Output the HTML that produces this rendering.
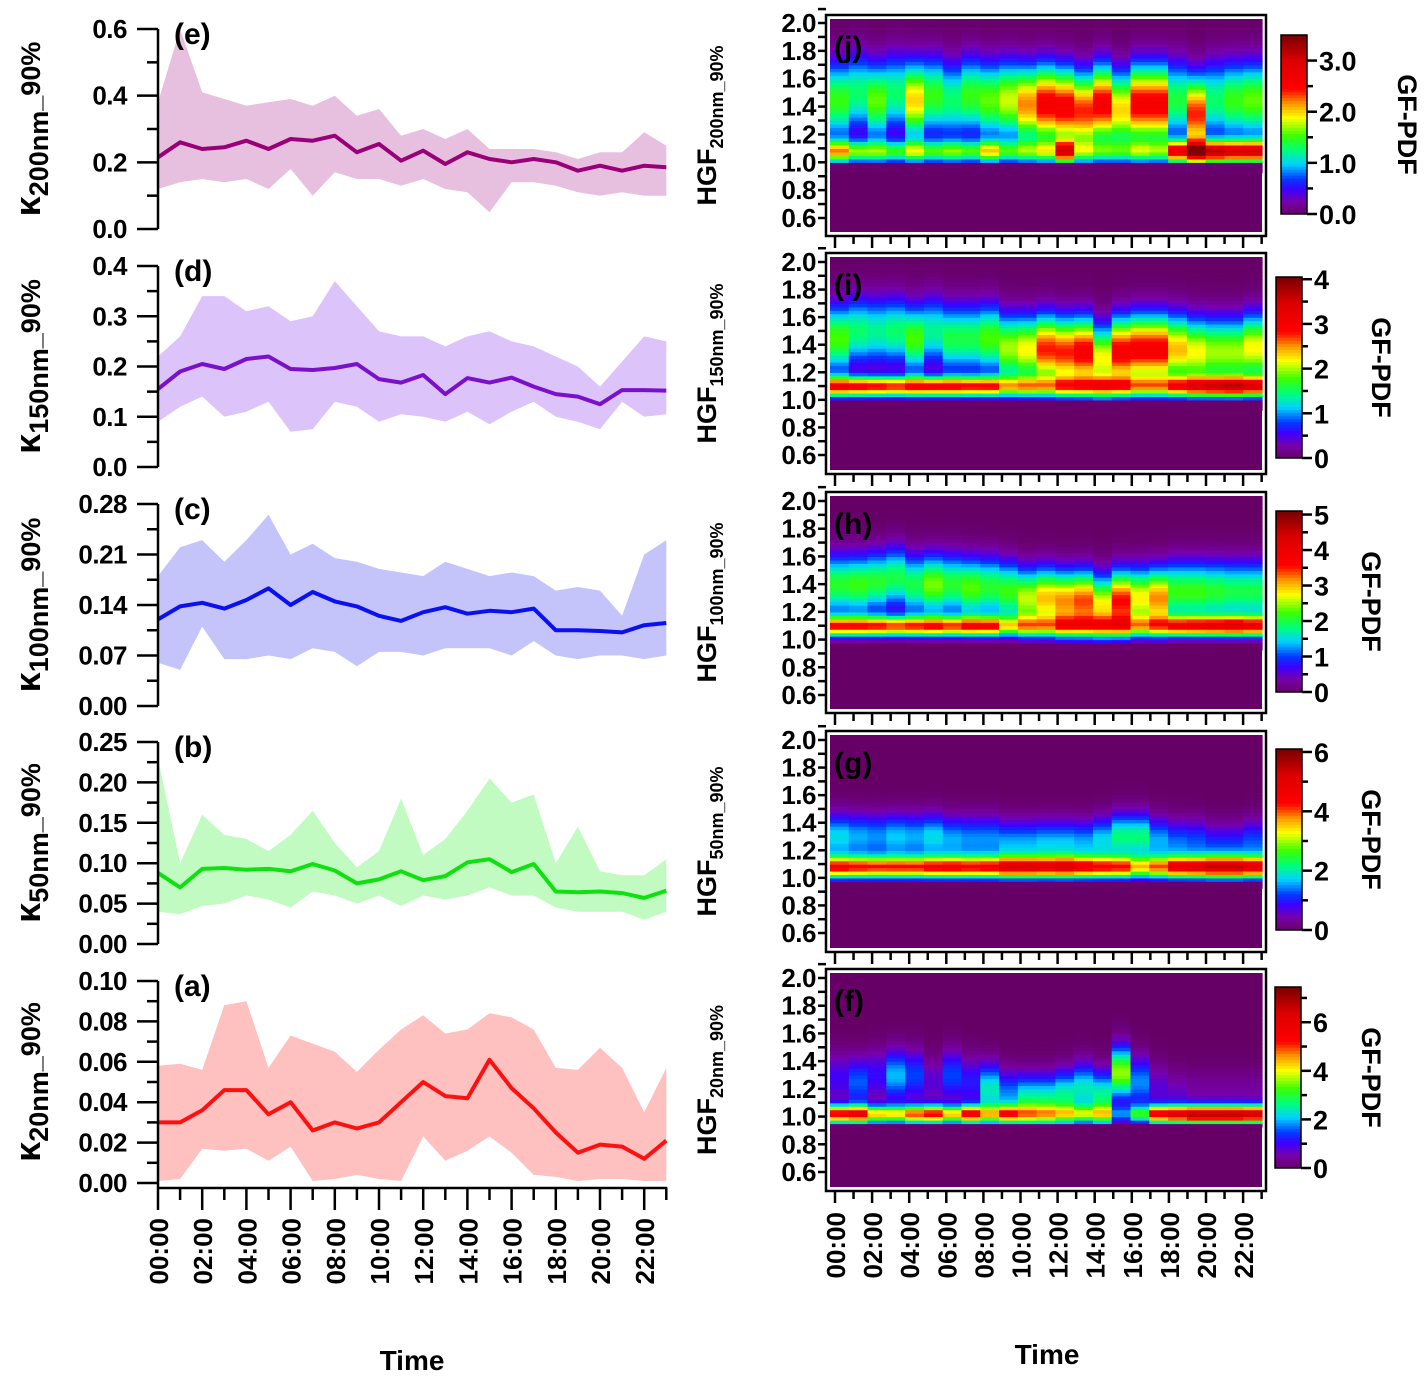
<!DOCTYPE html>
<html><head><meta charset="utf-8"><style>
html,body{margin:0;padding:0;background:#fff}
svg{display:block;font-family:"Liberation Sans",sans-serif;font-weight:bold}
</style></head><body>
<svg id="fig" width="1424" height="1385" viewBox="0 0 1424 1385" xmlns="http://www.w3.org/2000/svg"></svg>
<script>
// ---------- Left panel data (hourly 00..23) ----------
const hours = [0,1,2,3,4,5,6,7,8,9,10,11,12,13,14,15,16,17,18,19,20,21,22,23];
const timeLabels = ["00:00","02:00","04:00","06:00","08:00","10:00","12:00","14:00","16:00","18:00","20:00","22:00"];

const kA_med = [0.030,0.030,0.036,0.046,0.046,0.034,0.040,0.026,0.030,0.027,0.030,0.040,0.050,0.043,0.042,0.061,0.047,0.037,0.025,0.015,0.019,0.018,0.012,0.021];
const kA_up  = [0.058,0.059,0.056,0.088,0.090,0.057,0.073,0.069,0.065,0.055,0.066,0.076,0.083,0.074,0.076,0.084,0.082,0.076,0.057,0.056,0.067,0.057,0.035,0.057];
const kA_lo  = [0.001,0.002,0.017,0.016,0.017,0.011,0.018,0.001,0.002,0.004,0.002,0.001,0.023,0.011,0.016,0.023,0.015,0.004,0.003,0.001,0.002,0.002,0.001,0.001];

const kB_med = [0.088,0.070,0.093,0.094,0.092,0.093,0.090,0.099,0.091,0.075,0.080,0.090,0.079,0.084,0.101,0.105,0.089,0.099,0.065,0.064,0.065,0.063,0.057,0.066];
const kB_up  = [0.23,0.10,0.16,0.135,0.13,0.115,0.135,0.165,0.125,0.095,0.115,0.18,0.11,0.13,0.165,0.205,0.175,0.185,0.10,0.145,0.09,0.085,0.085,0.105];
const kB_lo  = [0.04,0.037,0.047,0.05,0.06,0.055,0.045,0.065,0.06,0.05,0.06,0.047,0.06,0.055,0.06,0.07,0.06,0.06,0.045,0.04,0.04,0.04,0.03,0.04];

const kC_med = [0.12,0.138,0.143,0.135,0.147,0.163,0.14,0.158,0.145,0.138,0.125,0.118,0.13,0.137,0.128,0.132,0.13,0.135,0.105,0.105,0.104,0.102,0.112,0.115];
const kC_up  = [0.18,0.22,0.23,0.2,0.23,0.265,0.21,0.225,0.205,0.2,0.19,0.185,0.18,0.2,0.19,0.18,0.185,0.18,0.16,0.165,0.16,0.125,0.21,0.23];
const kC_lo  = [0.06,0.05,0.11,0.065,0.065,0.07,0.065,0.08,0.075,0.055,0.075,0.075,0.07,0.08,0.08,0.08,0.07,0.09,0.07,0.065,0.07,0.07,0.065,0.07];

const kD_med = [0.155,0.19,0.205,0.195,0.215,0.22,0.195,0.193,0.197,0.205,0.175,0.168,0.183,0.145,0.177,0.168,0.178,0.16,0.145,0.14,0.125,0.153,0.153,0.152];
const kD_up  = [0.22,0.26,0.34,0.34,0.31,0.32,0.29,0.3,0.37,0.32,0.27,0.26,0.26,0.24,0.26,0.27,0.25,0.24,0.22,0.2,0.16,0.21,0.26,0.25];
const kD_lo  = [0.09,0.12,0.14,0.1,0.11,0.13,0.07,0.075,0.13,0.12,0.09,0.105,0.1,0.09,0.11,0.085,0.11,0.13,0.1,0.09,0.075,0.13,0.1,0.105];

const kE_med = [0.215,0.26,0.24,0.245,0.265,0.24,0.27,0.265,0.28,0.23,0.255,0.205,0.235,0.195,0.23,0.21,0.2,0.21,0.2,0.175,0.19,0.175,0.19,0.185];
const kE_up  = [0.38,0.6,0.41,0.39,0.37,0.38,0.39,0.37,0.4,0.34,0.36,0.28,0.3,0.27,0.3,0.24,0.24,0.24,0.23,0.21,0.23,0.23,0.29,0.25];
const kE_lo  = [0.12,0.14,0.15,0.14,0.15,0.12,0.18,0.1,0.17,0.15,0.15,0.13,0.15,0.12,0.11,0.05,0.14,0.14,0.13,0.11,0.1,0.11,0.1,0.1];

const eTicks = ["0.0","0.2","0.4","0.6"];
const dTicks = ["0.0","0.1","0.2","0.3","0.4"];
const cTicks = ["0.00","0.07","0.14","0.21","0.28"];
const bTicks = ["0.00","0.05","0.10","0.15","0.20","0.25"];
const aTicks = ["0.00","0.02","0.04","0.06","0.08","0.10"];

// ---------- Heatmap data (23 hourly columns) ----------
const hgfTicks = ["0.6","0.8","1.0","1.2","1.4","1.6","1.8","2.0"];
// j (200nm)
const jLo    = [2.0,1.6,1.5,1.4,1.6,1.4,1.5,1.4,1.8,1.3,1.3,1.4,2.4,1.1,1.1,1.0,1.3,1.2,2.6,2.8,3.0,2.8,2.8];
const jHi    = [1.5,1.3,1.6,1.3,2.0,1.5,1.3,1.5,1.6,1.8,2.2,2.6,2.6,2.4,2.6,2.0,2.6,2.6,1.4,2.4,1.3,1.5,1.6];
const jHiPos = [1.45,1.5,1.45,1.5,1.45,1.48,1.45,1.48,1.45,1.45,1.42,1.42,1.4,1.37,1.42,1.38,1.42,1.42,1.45,1.35,1.45,1.45,1.45];
// i (150nm)
const iLo    = [2.9,2.9,2.8,2.7,2.8,2.9,2.8,2.7,2.7,2.0,2.0,1.8,2.0,2.0,2.0,2.0,1.8,1.8,2.4,2.7,2.9,3.0,2.9];
const iHi    = [1.8,1.5,1.4,1.5,1.8,1.4,1.6,1.6,1.8,2.0,2.2,2.8,2.8,3.0,2.2,3.0,3.0,3.0,2.4,2.2,2.0,2.0,2.2];
const iHiPos = [1.45,1.5,1.5,1.5,1.45,1.5,1.45,1.45,1.45,1.38,1.37,1.37,1.35,1.35,1.3,1.35,1.37,1.37,1.37,1.35,1.35,1.35,1.38];
// h (100nm)
const hLo    = [3.4,3.4,3.4,3.3,3.3,3.4,3.2,3.4,3.4,2.4,2.3,2.1,2.3,2.2,2.2,2.3,2.1,2.3,3.4,3.5,3.6,3.8,3.6];
const hHi    = [2.1,2.2,2.1,2.0,2.0,2.4,2.1,2.3,2.1,2.2,2.6,3.0,3.2,3.4,2.8,3.6,2.8,3.2,2.2,2.2,2.1,2.0,2.0];
const hHiPos = [1.4,1.4,1.42,1.45,1.4,1.4,1.4,1.38,1.38,1.35,1.3,1.3,1.28,1.28,1.25,1.28,1.3,1.3,1.35,1.35,1.35,1.35,1.35];
// g (50nm)
const gLo    = [4.2,4.1,4.0,4.0,4.0,4.2,4.2,4.1,4.2,4.6,4.6,4.4,4.6,4.2,4.0,4.0,3.2,3.6,4.4,4.6,4.8,4.8,4.6];
const gHi    = [1.8,1.6,1.5,1.7,1.6,1.8,1.6,1.5,1.5,1.6,1.6,1.7,1.7,1.6,1.8,2.2,2.2,1.6,1.4,1.3,1.2,1.2,1.3];
const gHiPos = [1.3,1.3,1.3,1.3,1.3,1.3,1.28,1.28,1.28,1.25,1.25,1.25,1.25,1.25,1.27,1.3,1.3,1.27,1.25,1.25,1.22,1.22,1.25];
// f (20nm)
const fLo    = [5.4,5.6,4.2,4.0,4.8,5.2,4.2,5.4,3.6,4.4,3.0,2.8,2.8,3.0,2.8,1.6,2.8,5.4,5.8,6.4,6.4,6.4,6.2];
const fHi    = [1.0,1.6,1.1,2.0,1.5,0.8,1.5,1.2,2.4,1.8,2.6,2.6,2.6,2.4,2.6,3.6,1.8,0.8,0.7,0.5,0.5,0.5,0.5];
const fHiPos = [1.28,1.25,1.3,1.3,1.3,1.25,1.3,1.25,1.2,1.15,1.12,1.12,1.15,1.2,1.15,1.32,1.25,1.2,1.15,1.15,1.15,1.15,1.15];

// ---------- helpers ----------
const NS = "http://www.w3.org/2000/svg";
const svg = document.getElementById("fig");
function mk(tag, attrs, parent) {
  const e = document.createElementNS(NS, tag);
  for (const k in attrs) e.setAttribute(k, attrs[k]);
  (parent || svg).appendChild(e);
  return e;
}

const lx0 = 158, lxStep = 22.1;
function xL(h) { return lx0 + h * lxStep; }

const leftPanels = [
  {letter:"(e)", sub:"200nm", top:29, bot:229, max:0.6, ticks:eTicks, minor:0.1, med:kE_med, up:kE_up, lo:kE_lo, line:"#990077", fill:"#e8c0df"},
  {letter:"(d)", sub:"150nm", top:266, bot:467, max:0.4, ticks:dTicks, minor:0.05, med:kD_med, up:kD_up, lo:kD_lo, line:"#7a10cc", fill:"#dcc4fb"},
  {letter:"(c)", sub:"100nm", top:504, bot:706, max:0.28, ticks:cTicks, minor:0.035, med:kC_med, up:kC_up, lo:kC_lo, line:"#0a10f0", fill:"#c4c4fb"},
  {letter:"(b)", sub:"50nm", top:742, bot:944, max:0.25, ticks:bTicks, minor:0.025, med:kB_med, up:kB_up, lo:kB_lo, line:"#10e010", fill:"#c2fbc2"},
  {letter:"(a)", sub:"20nm", top:981, bot:1183, max:0.10, ticks:aTicks, minor:0.01, med:kA_med, up:kA_up, lo:kA_lo, line:"#ff1010", fill:"#ffc0c0"}
];

leftPanels.forEach((p, pi) => {
  const g = mk("g", {});
  
  
  const y = v => p.bot - (v / p.max) * (p.bot - p.top);
  let d = "";
  hours.forEach((h, i) => { d += (i ? "L" : "M") + xL(h).toFixed(1) + "," + y(p.up[i]).toFixed(1); });
  for (let i = hours.length - 1; i >= 0; i--) d += "L" + xL(hours[i]).toFixed(1) + "," + y(p.lo[i]).toFixed(1);
  const band = mk("path", {d: d + "Z", fill: p.fill, stroke: "none"}, g);
  
  
  const pts = hours.map((h, i) => xL(h).toFixed(1) + "," + y(p.med[i]).toFixed(1)).join(" ");
  const ln = mk("polyline", {points: pts, fill: "none", stroke: p.line, "stroke-width": 4, "stroke-linejoin": "round"}, g);
  
  
  const ax = mk("line", {x1: lx0, y1: p.top, x2: lx0, y2: pi === 4 ? 1188 : p.bot, stroke: "#000", "stroke-width": 2.5}, g);
  
  
  const step = p.max / (p.ticks.length - 1);
  p.ticks.forEach((t, i) => {
    const yy = y(i * step);
    mk("line", {x1: 137, y1: yy, x2: lx0, y2: yy, stroke: "#000", "stroke-width": 2.5}, g);
    const tx = mk("text", {x: 127, y: yy + 9, "text-anchor": "end", "font-size": 26, "letter-spacing": "-0.5"}, g);
    tx.textContent = t;
    
    
  });
  for (let v = p.minor; v < p.max - 1e-9; v += p.minor * 2) {
    const yy = y(v);
    mk("line", {x1: 147, y1: yy, x2: lx0, y2: yy, stroke: "#000", "stroke-width": 2.5}, g);
  }
  const lt = mk("text", {x: 174, y: p.top + 15, "font-size": 30}, g);
  lt.textContent = p.letter;
  
  
  const cy = (p.top + p.bot) / 2;
  const yl = mk("text", {transform: "translate(40," + cy + ") rotate(-90)", "text-anchor": "middle", "font-size": 27}, g);
  
  
  const k = mk("tspan", {"font-size": 36}, yl); k.textContent = "κ";
  const s = mk("tspan", {dy: 8}, yl); s.textContent = p.sub;
  const s2 = mk("tspan", {dy: -8}, yl); s2.textContent = "_90%";
});

{
  const g = mk("g", {});
  
  
  mk("line", {x1: lx0 - 1, y1: 1188, x2: xL(23) + 1, y2: 1188, stroke: "#000", "stroke-width": 2.5}, g);
  hours.forEach(h => {
    mk("line", {x1: xL(h), y1: 1188, x2: xL(h), y2: h % 2 ? 1200 : 1210, stroke: "#000", "stroke-width": 2.5}, g);
  });
  timeLabels.forEach((t, i) => {
    const x = xL(i * 2);
    const tx = mk("text", {transform: "translate(" + (x + 10) + ",1218) rotate(-90)", "text-anchor": "end", "font-size": 26}, g);
    tx.textContent = t;
    
    
  });
  const tt = mk("text", {x: 412, y: 1370, "text-anchor": "middle", "font-size": 28}, g);
  tt.textContent = "Time";
  
  
}

// ---------- colormap ----------
const cmStops = [[0,[102,0,102]],[0.07,[120,0,170]],[0.14,[60,0,255]],[0.2,[0,60,255]],[0.28,[0,210,255]],[0.36,[0,255,120]],[0.44,[60,255,0]],[0.54,[255,255,0]],[0.62,[255,150,0]],[0.7,[255,0,0]],[0.86,[220,0,0]],[1,[120,0,0]]];
function cmap(f) {
  f = Math.max(0, Math.min(1, f));
  for (let i = 1; i < cmStops.length; i++) {
    if (f <= cmStops[i][0]) {
      const a = cmStops[i-1], b = cmStops[i], t = (f - a[0]) / (b[0] - a[0]);
      const c = a[1].map((v, j) => Math.round(v + (b[1][j] - v) * t));
      return "rgb(" + c.join(",") + ")";
    }
  }
  return "rgb(120,0,0)";
}

const rx0 = 830, rx1 = 1262, nCols = 23, rHourStep = 18.55, rTick0 = 835;
const rightPanels = [
  {letter:"(j)", sub:"200nm_90%", top:19, y20:23, y06:218, bot:232, lo:jLo, hi:jHi, hiPos:jHiPos, loPos:1.08, sLo:0.055, sHi:0.19, cut:0.99, cmax:3.5, cbx:1281, cbTop:35, cbBot:214, cbTicks:["0.0","1.0","2.0","3.0"], cbStep:1, cbMinor:0.5, titleX:1398},
  {letter:"(i)", sub:"150nm_90%", top:257, y20:262, y06:455, bot:470, lo:iLo, hi:iHi, hiPos:iHiPos, loPos:1.1, sLo:0.05, sHi:0.17, cut:0.99, cmax:4.05, cbx:1276, cbTop:277, cbBot:458, cbTicks:["0","1","2","3","4"], cbStep:1, cbMinor:0.5, titleX:1372},
  {letter:"(h)", sub:"100nm_90%", top:496, y20:501, y06:695, bot:709, lo:hLo, hi:hHi, hiPos:hHiPos, loPos:1.1, sLo:0.05, sHi:0.15, cut:0.98, cmax:5.1, cbx:1276, cbTop:511, cbBot:692, cbTicks:["0","1","2","3","4","5"], cbStep:1, cbMinor:0.5, titleX:1362},
  {letter:"(g)", sub:"50nm_90%", top:735, y20:740, y06:933, bot:948, lo:gLo, hi:gHi, hiPos:gHiPos, loPos:1.08, sLo:0.055, sHi:0.12, cut:0.97, cmax:6.1, cbx:1276, cbTop:749, cbBot:930, cbTicks:["0","2","4","6"], cbStep:2, cbMinor:1, titleX:1362},
  {letter:"(f)", sub:"20nm_90%", top:973, y20:978, y06:1172, bot:1187, lo:fLo, hi:fHi, hiPos:fHiPos, loPos:1.02, sLo:0.045, sHi:0.13, cut:0.94, cmax:7.45, cbx:1275, cbTop:987, cbBot:1168, cbTicks:["0","2","4","6"], cbStep:2, cbMinor:1, titleX:1362}
];

rightPanels.forEach(p => {
  const g = mk("g", {});
  
  
  const y = v => p.y06 - (v - 0.6) / 1.4 * (p.y06 - p.y20);
  const cw = (rx1 - rx0) / nCols;
  mk("rect", {x: rx0, y: p.top, width: rx1 - rx0, height: p.bot - p.top, fill: cmap(0)}, g);
  const dg = 0.025;
  for (let c = 0; c < nCols; c++) {
    for (let gv = 0.925; gv < 2.08; gv += dg) {
      const gc = gv + dg / 2;
      let v = p.lo[c] * Math.exp(-0.5 * Math.pow((gc - p.loPos) / p.sLo, 2)) +
              p.hi[c] * Math.exp(-0.5 * Math.pow((gc - p.hiPos[c]) / p.sHi, 2));
      if (gc < p.cut) v *= 0.1;
      const y1 = Math.max(p.top, y(gv + dg)), y2 = Math.min(p.bot, y(gv));
      if (y2 <= y1) continue;
      const r = mk("rect", {x: (rx0 + c * cw).toFixed(2), y: y1.toFixed(2), width: (cw + 0.6).toFixed(2), height: (y2 - y1 + 0.6).toFixed(2), fill: cmap(v / p.cmax)}, g);
      
      
    }
  }
  mk("rect", {x: rx0 - 2, y: p.top - 2, width: rx1 - rx0 + 4, height: p.bot - p.top + 4, fill: "none", stroke: "#fff", "stroke-width": 2}, g);
  const fr = mk("rect", {x: rx0 - 4, y: p.top - 4, width: rx1 - rx0 + 8, height: p.bot - p.top + 8, fill: "none", stroke: "#000", "stroke-width": 2.5}, g);
  
  
  hgfTicks.forEach((t, i) => {
    const yy = y(0.6 + i * 0.2);
    mk("line", {x1: rx0 - 12, y1: yy, x2: rx0 - 4, y2: yy, stroke: "#000", "stroke-width": 2.5}, g);
    mk("line", {x1: rx0 - 12, y1: y(0.7 + i * 0.2), x2: rx0 - 4, y2: y(0.7 + i * 0.2), stroke: "#000", "stroke-width": 2.5}, g);
    const tx = mk("text", {x: rx0 - 14, y: yy + 9, "text-anchor": "end", "font-size": 26, "letter-spacing": "-0.5"}, g);
    tx.textContent = t;
    
    
  });
  for (let h = 0; h < 24; h++) {
    const x = rTick0 + h * rHourStep;
    mk("line", {x1: x, y1: p.bot + 4, x2: x, y2: p.bot + (h % 2 ? 12 : 16), stroke: "#000", "stroke-width": 2.5}, g);
  }
  const lt = mk("text", {x: 834, y: p.top + 38, "font-size": 30}, g);
  lt.textContent = p.letter;
  
  
  const cy = (p.top + p.bot) / 2;
  const yl = mk("text", {transform: "translate(716," + cy + ") rotate(-90)", "text-anchor": "middle", "font-size": 27}, g);
  
  
  const a = mk("tspan", {}, yl); a.textContent = "HGF";
  const s = mk("tspan", {dy: 7, "font-size": 18}, yl); s.textContent = p.sub;
  const cb = mk("g", {}, g);
  
  
  const n = 60, hh = (p.cbBot - p.cbTop) / n;
  for (let i = 0; i < n; i++) {
    mk("rect", {x: p.cbx, y: (p.cbBot - (i + 1) * hh).toFixed(2), width: 26, height: (hh + 0.5).toFixed(2), fill: cmap((i + 0.5) / n)}, cb);
  }
  mk("rect", {x: p.cbx, y: p.cbTop, width: 26, height: p.cbBot - p.cbTop, fill: "none", stroke: "#000", "stroke-width": 1.5}, cb);
  const cy2 = v => p.cbBot - v / p.cmax * (p.cbBot - p.cbTop);
  p.cbTicks.forEach((t, i) => {
    const yy = cy2(i * p.cbStep);
    mk("line", {x1: p.cbx + 26, y1: yy, x2: p.cbx + 36, y2: yy, stroke: "#000", "stroke-width": 2.5}, cb);
    const tx = mk("text", {x: p.cbx + 38, y: yy + 10, "font-size": 27}, cb);
    tx.textContent = t;
    
    
  });
  for (let v = p.cbMinor; v < p.cmax; v += p.cbStep) {
    mk("line", {x1: p.cbx + 26, y1: cy2(v), x2: p.cbx + 32, y2: cy2(v), stroke: "#000", "stroke-width": 2.5}, cb);
  }
  const ct = mk("text", {transform: "translate(" + p.titleX + "," + ((p.cbTop + p.cbBot) / 2) + ") rotate(90)", "text-anchor": "middle", "font-size": 27}, cb);
  ct.textContent = "GF-PDF";
  
  
});

{
  const g = mk("g", {});
  
  
  timeLabels.forEach((t, i) => {
    const x = rTick0 + i * 2 * rHourStep;
    const tx = mk("text", {transform: "translate(" + (x + 10) + ",1212) rotate(-90)", "text-anchor": "end", "font-size": 26}, g);
    tx.textContent = t;
    
    
  });
  const tt = mk("text", {x: 1047, y: 1364, "text-anchor": "middle", "font-size": 28}, g);
  tt.textContent = "Time";
  
  
}
</script>
</body></html>
